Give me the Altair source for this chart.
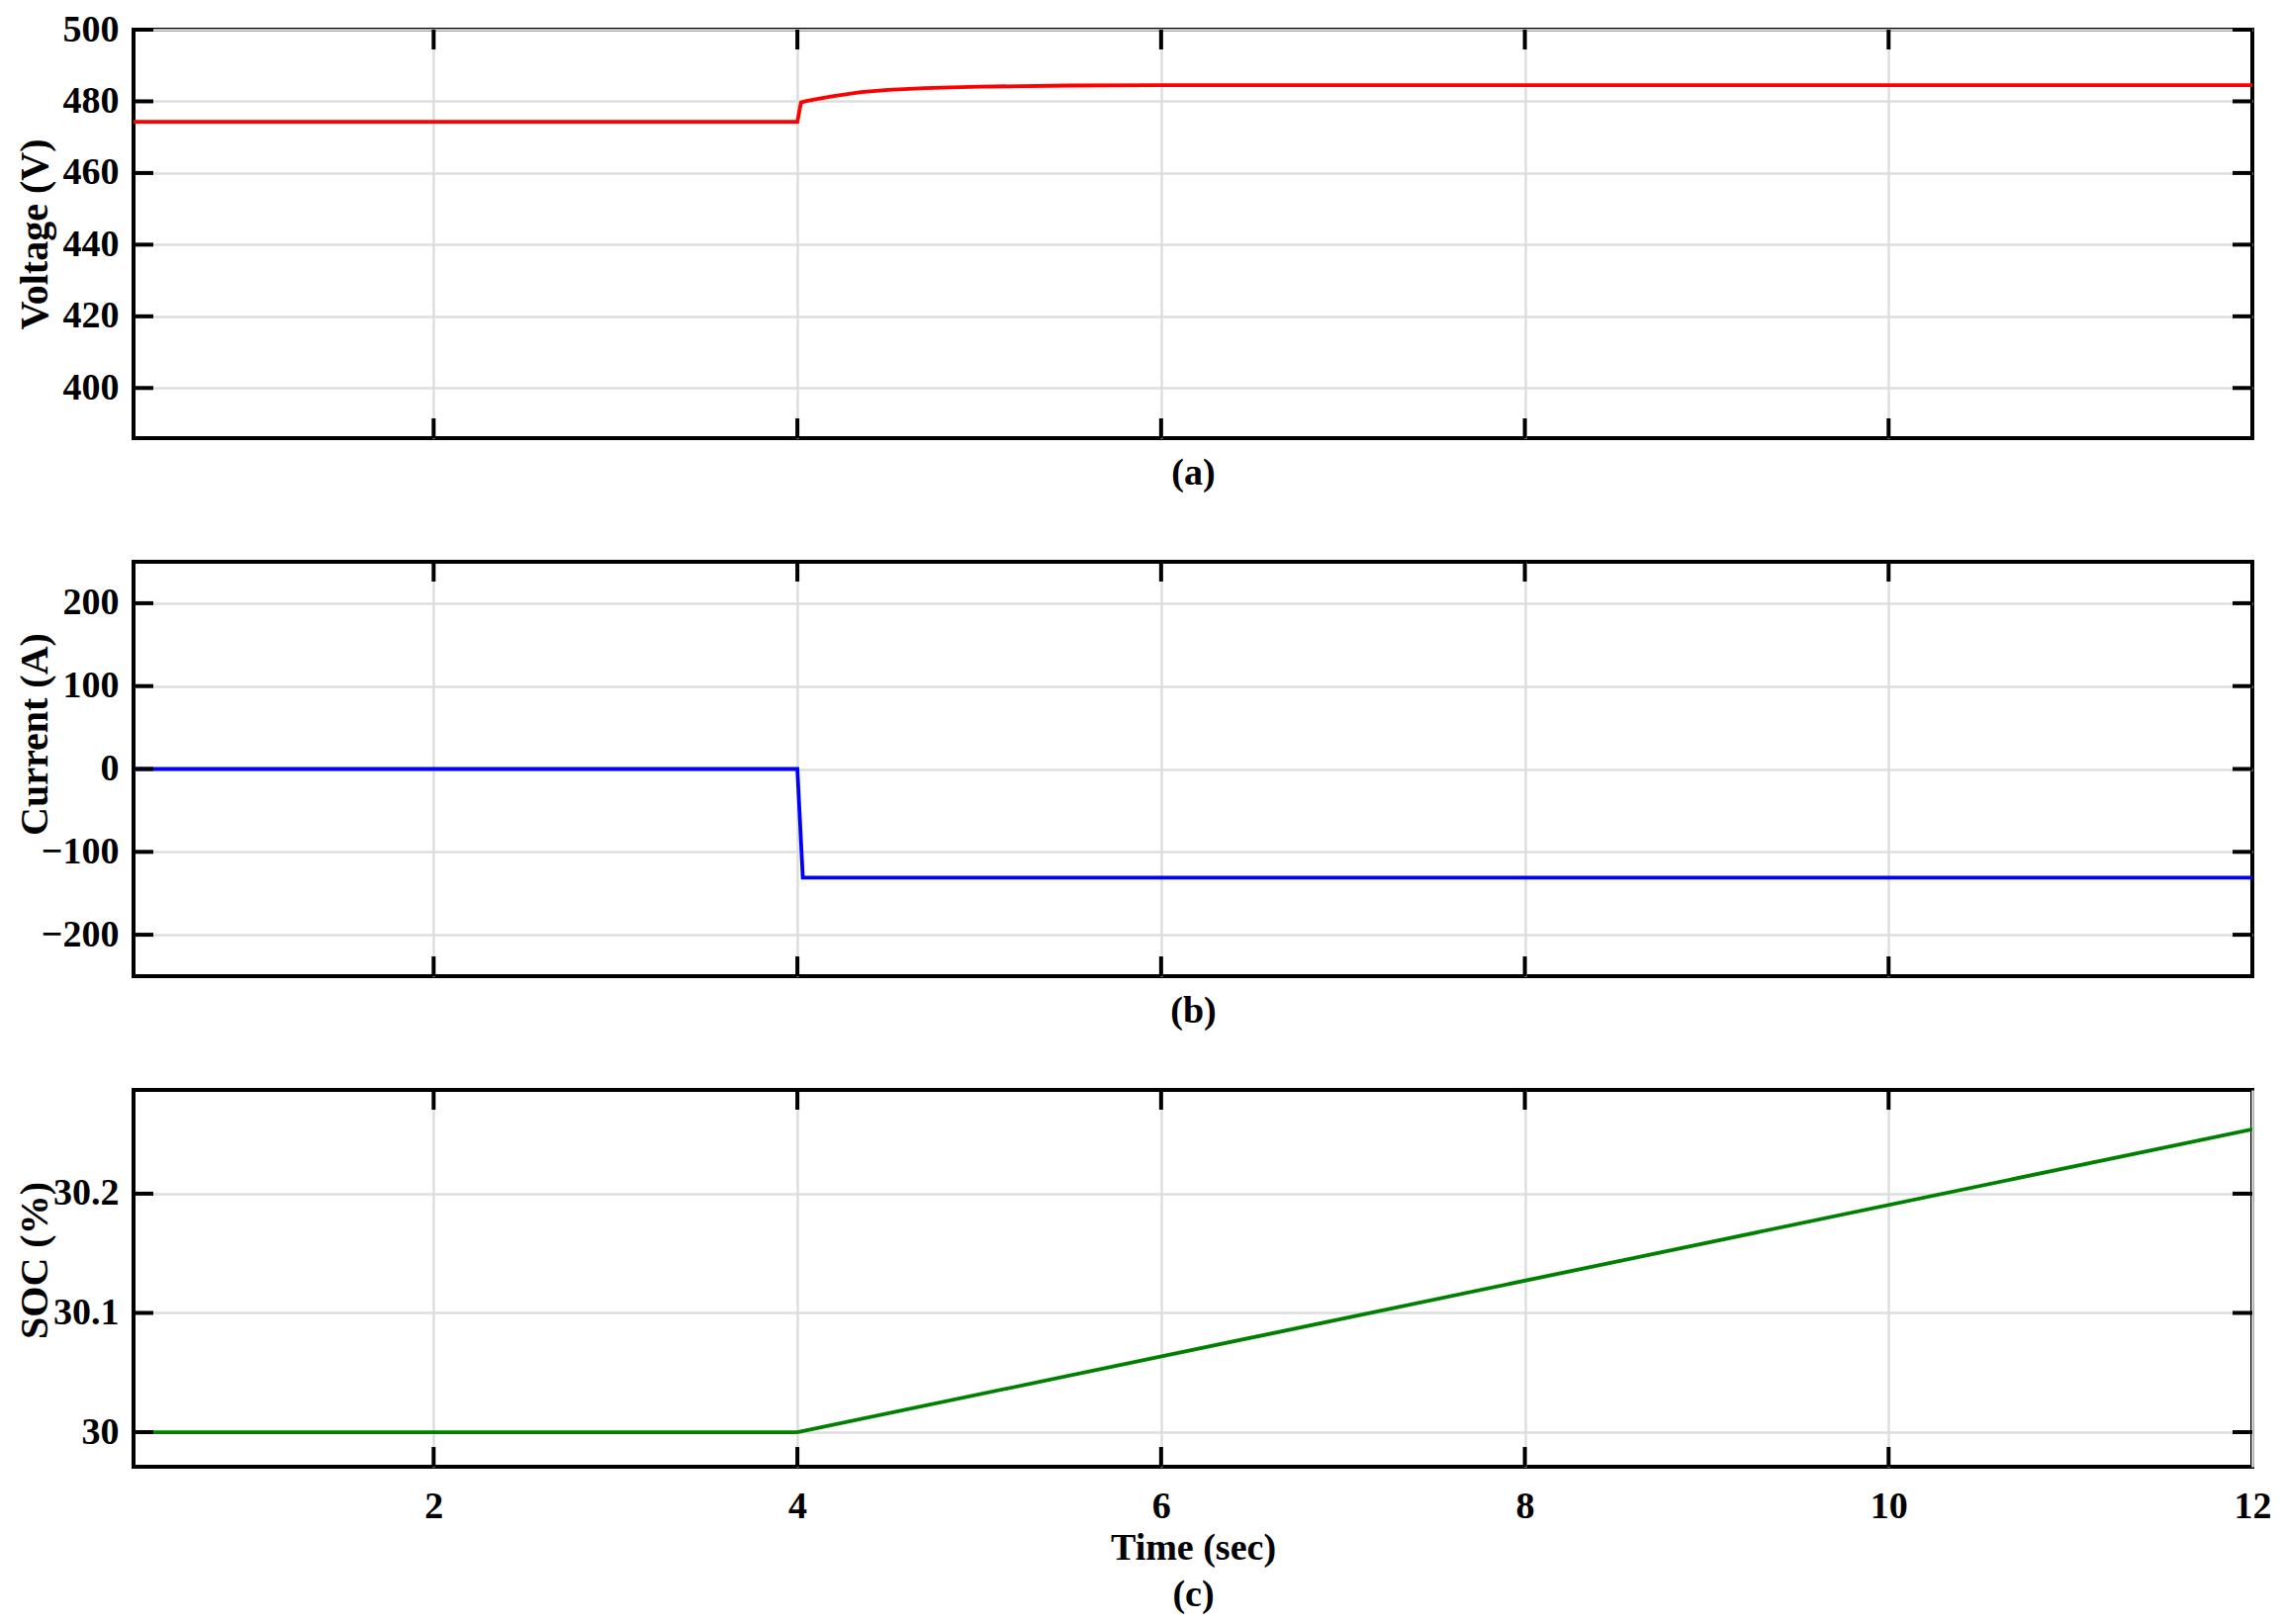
import altair as alt
import pandas as pd

# ---- data ----
t_v = [0.35, 4.0, 4.02, 4.05, 4.1, 4.2, 4.35, 4.5, 4.7, 5.0, 5.5, 6.0, 12.0]
volt = [474.3, 474.3, 479.7, 480.1, 480.6, 481.5, 482.6, 483.2, 483.7, 484.1, 484.4, 484.5, 484.5]

t_i = [0.35, 4.0, 4.03, 12.0]
curr = [0.0, 0.0, -131.0, -131.0]

t_s = [0.35, 4.0, 12.0]
soc = [30.0, 30.0, 30.254]

x_ticks = [2, 4, 6, 8, 10]
x_labels = [2, 4, 6, 8, 10, 12]
v_ticks = [400, 420, 440, 460, 480, 500]
i_ticks = [-200, -100, 0, 100, 200]
s_ticks = [30.0, 30.1, 30.2]

X_DOMAIN = [0.35, 12]
FONT = "Liberation Serif"
W = 2142
TL = 20  # inward tick length

def panel(df, ycol, color, ydom, yticks, ytitle, title_y, xtitle, show_xlabels, H, yfmt=None):
    xscale = alt.Scale(domain=X_DOMAIN, nice=False, zero=False)
    yscale = alt.Scale(domain=ydom, nice=False, zero=False)
    xaxis = alt.Axis(
        values=x_labels if show_xlabels else x_ticks,
        labels=show_xlabels, ticks=False, tickSize=0, domain=False,
        grid=True, gridColor="#dedede", gridWidth=2.5,
        title=xtitle, titleFont=FONT, titleFontSize=38, titleFontWeight="bold",
        titleColor="black", titlePadding=4 if show_xlabels else 16,
        titleLineHeight=47,
        labelFont=FONT, labelFontSize=38, labelFontWeight="bold", labelColor="black",
        labelPadding=21, labelFlush=False,
    )
    yaxis_kw = dict(
        values=yticks, ticks=False, tickSize=0, domain=False,
        grid=True, gridColor="#dedede", gridWidth=2.5,
        title=ytitle, titleFont=FONT, titleFontSize=40, titleFontWeight="bold",
        titleColor="black", titleX=-80, titleY=title_y, titleAngle=270,
        titleBaseline="bottom",
        labelFont=FONT, labelFontSize=38, labelFontWeight="bold", labelColor="black",
        labelPadding=15, labelFlush=False,
    )
    if yfmt:
        yaxis_kw["format"] = yfmt
    yaxis = alt.Axis(**yaxis_kw)

    line = alt.Chart(df).mark_line(color=color, strokeWidth=3.8, clip=True).encode(
        x=alt.X("t:Q", scale=xscale, axis=xaxis),
        y=alt.Y(f"{ycol}:Q", scale=yscale, axis=yaxis),
    )
    xt = pd.DataFrame({"t": x_ticks})
    yt = pd.DataFrame({ycol: yticks})
    rule = dict(color="black", strokeWidth=4)
    top = alt.Chart(xt).mark_rule(**rule).encode(
        x=alt.X("t:Q", scale=xscale, axis=xaxis), y=alt.value(0), y2=alt.value(TL))
    bot = alt.Chart(xt).mark_rule(**rule).encode(
        x=alt.X("t:Q", scale=xscale, axis=xaxis), y=alt.value(H - TL), y2=alt.value(H))
    left = alt.Chart(yt).mark_rule(**rule).encode(
        y=alt.Y(f"{ycol}:Q", scale=yscale, axis=yaxis), x=alt.value(0), x2=alt.value(TL))
    right = alt.Chart(yt).mark_rule(**rule).encode(
        y=alt.Y(f"{ycol}:Q", scale=yscale, axis=yaxis), x=alt.value(W - TL), x2=alt.value(W))
    return alt.layer(line, top, bot, left, right).properties(width=W, height=H)

Ha, Hb, Hc = 413, 419, 381

pa = panel(pd.DataFrame({"t": t_v, "v": volt}), "v", "#ff0000", [386, 500], v_ticks,
           "Voltage (V)", Ha / 2, "(a)", False, Ha)
pb = panel(pd.DataFrame({"t": t_i, "i": curr}), "i", "#0000ff", [-250, 250], i_ticks,
           "Current (A)", 174, "(b)", False, Hb)
pc = panel(pd.DataFrame({"t": t_s, "s": soc}), "s", "#008000", [29.971, 30.287], s_ticks,
           "SOC (%)", 172, ["Time (sec)", "(c)"], True, Hc, yfmt="~g")

lower = alt.vconcat(pb, pc, spacing=115, bounds="flush")
chart = alt.vconcat(pa, lower, spacing=125, bounds="flush").properties(
    padding={"left": 5, "top": 1, "right": 0, "bottom": 10},
    background="white",
).configure_view(stroke="black", strokeWidth=4)

chart.save("out.html", embed_options={"renderer": "svg", "actions": False})
